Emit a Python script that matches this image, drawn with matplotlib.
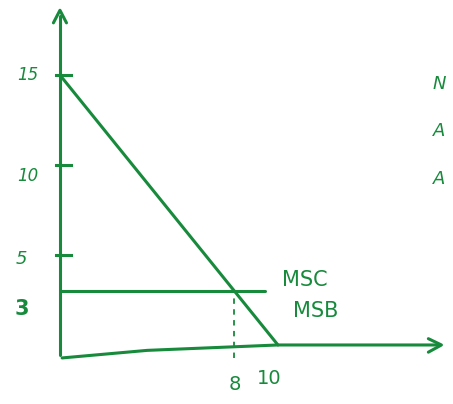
import matplotlib
matplotlib.use("Agg")
import matplotlib.pyplot as plt
import numpy as np

# Market for a good: marginal social benefit vs marginal social cost
quantity = [0, 10]
msb_price = [15, 0]          # MSB falls from 15 to 0 at Q = 10
msc_quantity = [0, 9.4]
msc_price = [3, 3]           # flat MSC at 3
eq_quantity = 8
eq_price = 3
y_ticks = [15, 10, 5]
y_tick_labels = ["15", "10", "5"]
x_tick_values = [8, 10]
x_tick_labels = ["8", "10"]
curve_labels = ["MSC", "MSB"]

green = "#178a3c"

fig = plt.figure(figsize=(4.53, 4.04), dpi=100)
ax = fig.add_axes([0, 0, 1, 1])
ax.set_xlim(-2.75, 18.03)
ax.set_ylim(-3.28, 19.17)
ax.axis("off")

lw = 2.2
kw = dict(color=green, lw=lw, solid_capstyle="round", solid_joinstyle="round")
# axes drawn by hand
ax.plot([0, 0], [-0.55, 18.3], **kw)
ax.plot([-0.3, 0, 0.3], [17.9, 18.6, 17.9], **kw)
ax.plot([0.1, 4, 10, 17.4], [-0.72, -0.3, 0, 0], **kw)
ax.plot([16.9, 17.5, 16.9], [0.35, 0.0, -0.4], **kw)

# y ticks and labels
for v in y_ticks:
    ax.plot([-0.2, 0.5], [v, v], color=green, lw=lw)
ax.text(-1.0, 15, y_tick_labels[0], color=green, fontsize=12, ha="right",
        va="center", fontstyle="italic")
ax.text(-1.0, 9.4, y_tick_labels[1], color=green, fontsize=12, ha="right",
        va="center", fontstyle="italic")
ax.text(-1.5, 4.8, y_tick_labels[2], color=green, fontsize=13, ha="right",
        va="center", fontstyle="italic")
ax.text(-1.4, eq_price - 1.0, "3", color=green, fontsize=15, ha="right",
        va="center", fontweight="bold")

# curves
ax.plot(quantity, msb_price, **kw)
ax.plot(msc_quantity, msc_price, **kw)
ax.plot([eq_quantity, eq_quantity], [-0.7, eq_price], color=green, lw=1.3,
        linestyle=(0, (3, 3)))

# x labels
ax.text(x_tick_values[0], -2.2, x_tick_labels[0], color=green, fontsize=14,
        ha="center", va="center")
ax.text(x_tick_values[1] - 0.4, -1.85, x_tick_labels[1], color=green, fontsize=14,
        ha="center", va="center")

# curve names
ax.text(10.2, 3.6, curve_labels[0], color=green, fontsize=15, ha="left", va="center")
ax.text(10.7, 1.9, curve_labels[1], color=green, fontsize=15, ha="left", va="center")

# letters along the right edge
for yv, ch in zip([14.5, 11.9, 9.2], ["N", "A", "A"]):
    ax.text(17.1, yv, ch, color=green, fontsize=13, ha="left", va="center",
            fontstyle="italic")

fig.savefig("out.png", dpi=100, facecolor="white")
